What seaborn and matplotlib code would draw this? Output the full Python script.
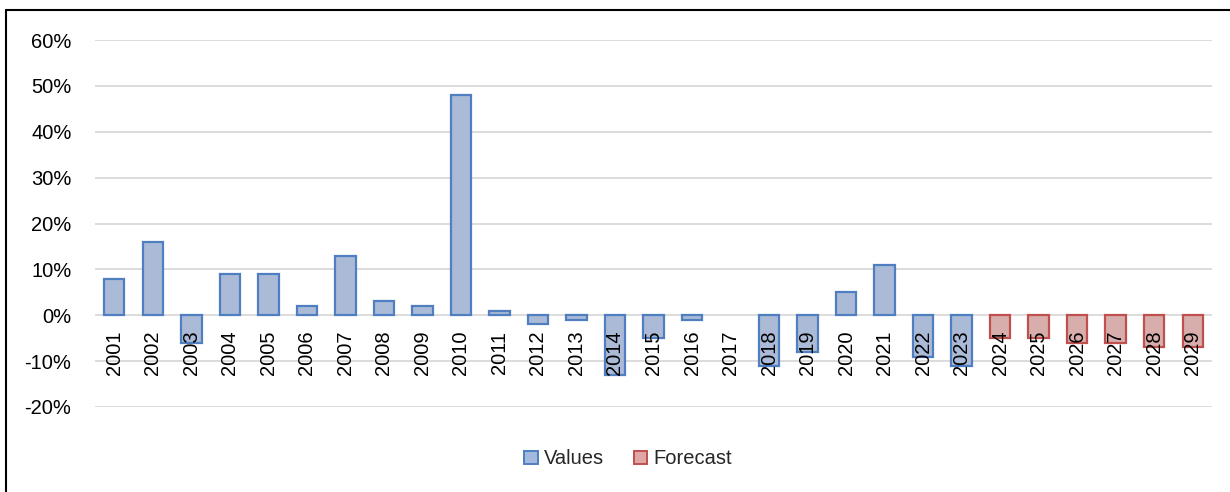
import matplotlib
matplotlib.use("Agg")
import matplotlib.pyplot as plt
import seaborn as sns
import pandas as pd
from matplotlib.patches import Patch
from matplotlib.lines import Line2D
from matplotlib.ticker import FuncFormatter

years = [str(y) for y in range(2001, 2030)]
values = [8, 16, -6, 9, 9, 2, 13, 3, 2, 48, 1, -2, -1, -13, -5, -1, 0, -11, -8, 5, 11, -9, -11,
          None, None, None, None, None, None]
forecast = [None] * 23 + [-5, -5, -6, -6, -7, -7]
series_names = ["Values", "Forecast"]
yticks = [-20, -10, 0, 10, 20, 30, 40, 50, 60]

rows = []
for y, v, f in zip(years, values, forecast):
    if v is not None:
        rows.append({"year": y, "value": v, "series": "Values"})
    if f is not None:
        rows.append({"year": y, "value": f, "series": "Forecast"})
df = pd.DataFrame(rows)

sns.set_theme(style="white")
plt.rcParams['font.family'] = ['Liberation Sans', 'DejaVu Sans']

fill = {"Values": "#a4b9de", "Forecast": "#dfa7a6"}
edge = {"Values": "#4f7fc0", "Forecast": "#c0504d"}
FS = 14.5

fig = plt.figure(figsize=(12.30, 4.92), dpi=100)
ax = fig.add_axes([95 / 1230, 1 - 407 / 492, (1212 - 95) / 1230, (407 - 40) / 492])

sns.barplot(data=df, x="year", y="value", hue="series", order=years, hue_order=series_names,
            dodge=False, palette=fill, width=0.53, ax=ax, legend=False, zorder=3,
            linewidth=1.6)
for cont, name in zip(ax.containers, series_names):
    for p in cont:
        p.set_edgecolor(edge[name])
        p.set_linewidth(1.6 if p.get_height() != 0 else 0)

ax.set_xlim(-0.5, len(years) - 0.5)
ax.set_ylim(-20, 60)
ax.set_yticks(yticks)
ax.yaxis.set_major_formatter(FuncFormatter(lambda v, p: f"{int(v)}%"))
ax.grid(axis="y", color="#d9d9d9", linewidth=1.3, zorder=0)
ax.set_axisbelow(True)
for s in ax.spines.values():
    s.set_visible(False)
ax.spines['bottom'].set_position(('data', 0))
ax.set_xlabel("")
ax.set_ylabel("")
ax.tick_params(axis="y", length=0, pad=17, labelsize=FS, labelcolor="#000000")
ax.tick_params(axis="x", length=0, pad=11, labelsize=FS, labelcolor="#000000", labelrotation=90)
for lbl in ax.get_xticklabels():
    lbl.set_zorder(5)
ax.xaxis.set_zorder(5)

handles = [Patch(facecolor=fill[n], edgecolor=edge[n], linewidth=1.4, label=n) for n in series_names]
fig.legend(handles=handles, loc="center", bbox_to_anchor=(0.5106, 1 - 459 / 492), ncol=2,
           frameon=False, fontsize=FS, handlelength=0.65, handleheight=0.65,
           handletextpad=0.3, columnspacing=1.5)

fig.add_artist(Line2D([6 / 1230, 6 / 1230], [0, 1 - 10 / 492], transform=fig.transFigure,
                      color="black", linewidth=1.5))
fig.add_artist(Line2D([6 / 1230, 1], [1 - 10 / 492, 1 - 10 / 492], transform=fig.transFigure,
                      color="black", linewidth=1.5))

fig.savefig("out.png", dpi=100)
